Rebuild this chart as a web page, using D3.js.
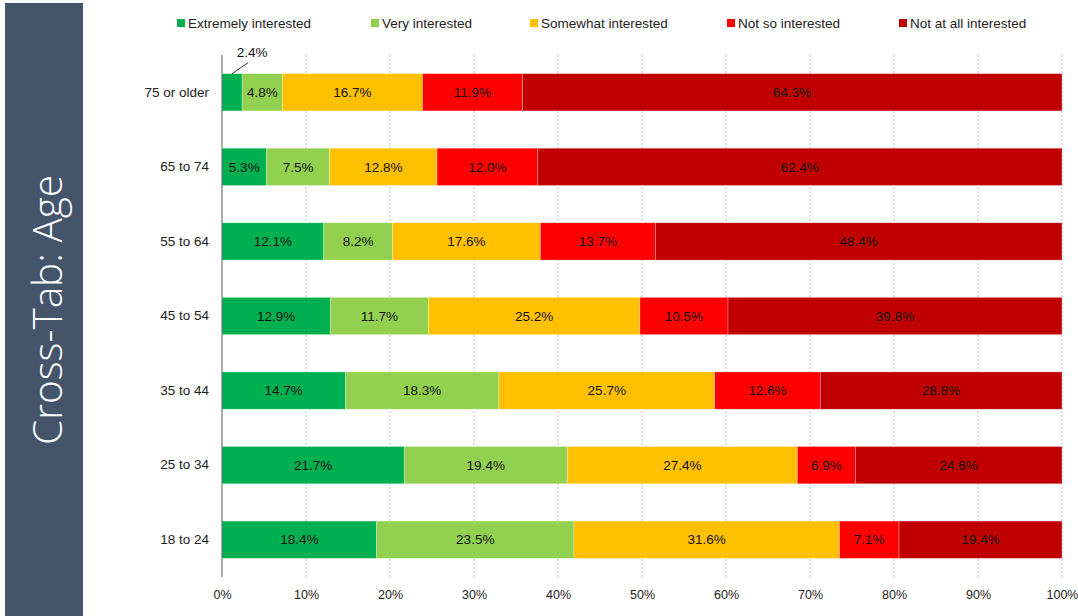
<!DOCTYPE html>
<html>
<head>
<meta charset="utf-8">
<style>
body { margin: 0; background: #fff; }
svg text { font-family: "Liberation Sans", "DejaVu Sans", sans-serif; }
</style>
</head>
<body>
<div id="target"></div>
<script src="https://cdn.jsdelivr.net/npm/d3@7.8.3/dist/d3.min.js"></script>
<script>
// age groups, top to bottom as drawn
const ages = ["75 or older", "65 to 74", "55 to 64", "45 to 54", "35 to 44", "25 to 34", "18 to 24"];
const series = ["Extremely interested", "Very interested", "Somewhat interested", "Not so interested", "Not at all interested"];
const colors = ["#00B050", "#92D050", "#FFC000", "#FF0000", "#C00000"];

const extremely = [2.4, 5.3, 12.1, 12.9, 14.7, 21.7, 18.4];
const very      = [4.8, 7.5, 8.2, 11.7, 18.3, 19.4, 23.5];
const somewhat  = [16.7, 12.8, 17.6, 25.2, 25.7, 27.4, 31.6];
const notSo     = [11.9, 12.0, 13.7, 10.5, 12.6, 6.9, 7.1];
const notAtAll  = [64.3, 62.4, 48.4, 39.8, 28.8, 24.6, 19.4];

const ticks = [0, 0.1, 0.2, 0.3, 0.4, 0.5, 0.6, 0.7, 0.8, 0.9, 1];

const width = 1078, height = 616;
const margin = {left: 222, right: 16, top: 55, bottom: 39};
const fs = "13.5px";

const svg = d3.select("#target").append("svg")
    .attr("width", width)
    .attr("height", height);

// side panel
svg.append("rect")
    .attr("x", 5).attr("y", 3)
    .attr("width", 78).attr("height", height - 3)
    .attr("fill", "#44546A");
svg.append("text")
    .attr("transform", "translate(62,310) rotate(-90)")
    .attr("text-anchor", "middle")
    .attr("fill", "#fff")
    .style("font-family", "'Open Sans', 'DejaVu Sans', sans-serif")
    .style("font-weight", 300)
    .style("font-size", "40.5px")
    .text("Cross-Tab: Age");

const x = d3.scaleLinear().domain([0, 1]).range([margin.left, width - margin.right]);
const y = d3.scaleBand().domain(ages).range([margin.top, height - margin.bottom]).paddingInner(0.5).paddingOuter(0.25);

// table built from the arrays, normalised to 100%
const rows = ages.map((a, i) => {
    const vals = [extremely[i], very[i], somewhat[i], notSo[i], notAtAll[i]];
    const tot = d3.sum(vals);
    const r = {age: a};
    series.forEach((s, k) => { r[s] = vals[k] / tot; r[s + "_raw"] = vals[k]; });
    return r;
});
const stacked = d3.stack().keys(series)(rows);

// gridlines
svg.append("g").selectAll("line")
    .data(ticks.slice(1))
    .join("line")
    .attr("x1", d => x(d)).attr("x2", d => x(d))
    .attr("y1", margin.top).attr("y2", height - margin.bottom)
    .attr("stroke", "#BFBFBF")
    .attr("stroke-dasharray", "2,2");

// bars
const layers = svg.append("g").selectAll("g")
    .data(stacked)
    .join("g")
    .attr("fill", (d, i) => colors[i]);

layers.selectAll("rect")
    .data(d => d)
    .join("rect")
    .attr("x", d => x(d[0]))
    .attr("y", d => y(d.data.age))
    .attr("width", d => x(d[1]) - x(d[0]))
    .attr("height", y.bandwidth())
    .attr("stroke", "#fff")
    .attr("stroke-opacity", 0.4)
    .attr("stroke-width", 0.7);

// value labels
layers.each(function(layer) {
    d3.select(this).selectAll("text")
        .data(layer)
        .join("text")
        .attr("x", d => (x(d[0]) + x(d[1])) / 2)
        .attr("y", d => y(d.data.age) + y.bandwidth() / 2)
        .attr("dy", "0.35em")
        .attr("text-anchor", "middle")
        .attr("fill", "#111")
        .style("font-size", fs)
        .each(function(d) {
            const v = d.data[layer.key + "_raw"];
            const t = d3.select(this).text(v.toFixed(1) + "%");
            // narrow segment: move the label above with a leader line
            if (x(d[1]) - x(d[0]) < 25) {
                const cx = (x(d[0]) + x(d[1])) / 2;
                const top = y(d.data.age);
                t.attr("x", cx + 20).attr("y", top - 21).attr("text-anchor", "middle");
                svg.append("line")
                    .attr("x1", cx).attr("y1", top)
                    .attr("x2", cx + 16).attr("y2", top - 11)
                    .attr("stroke", "#000").attr("stroke-width", 0.8);
            }
        });
});

// axes
svg.append("g")
    .attr("transform", `translate(${margin.left},0)`)
    .append("line")
    .attr("y1", margin.top).attr("y2", height - margin.bottom)
    .attr("stroke", "#595959");

svg.append("g")
    .attr("transform", `translate(${margin.left},0)`)
    .call(d3.axisLeft(y).tickSize(0).tickPadding(13))
    .call(g => g.select(".domain").remove())
    .call(g => g.selectAll("text")
        .style("font-size", fs)
        .attr("fill", "#222")
        .style("font-family", "'Liberation Sans', sans-serif"));

svg.append("g")
    .attr("transform", `translate(0,${height - margin.bottom})`)
    .call(d3.axisBottom(x).tickValues(ticks).tickFormat(d3.format(".0%")).tickSize(0).tickPadding(13))
    .call(g => g.select(".domain").remove())
    .call(g => g.selectAll("text")
        .style("font-size", "12.5px")
        .attr("fill", "#222")
        .style("font-family", "'Liberation Sans Narrow', 'Liberation Sans', sans-serif"));

// legend
const legendX = [177, 371, 530, 727, 899];
const legend = svg.append("g").selectAll("g")
    .data(series)
    .join("g")
    .attr("transform", (d, i) => `translate(${legendX[i]},23)`);
legend.append("rect")
    .attr("x", 0).attr("y", -4)
    .attr("width", 8).attr("height", 8)
    .attr("fill", (d, i) => colors[i]);
legend.append("text")
    .attr("x", 11)
    .attr("dy", "0.35em")
    .attr("fill", "#222")
    .style("font-size", fs)
    .text(d => d);
</script>
</body>
</html>
